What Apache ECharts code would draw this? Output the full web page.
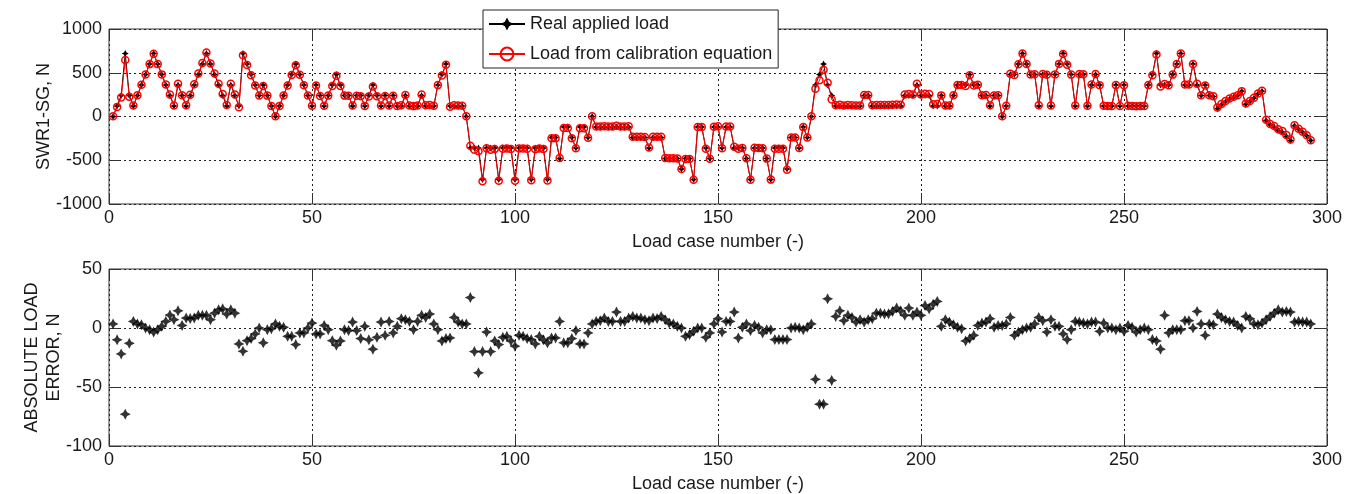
<!DOCTYPE html>
<html>
<head>
<meta charset="utf-8">
<script src="https://cdn.jsdelivr.net/npm/echarts@6/dist/echarts.min.js"></script>
<style>
html,body{margin:0;padding:0;background:#fff;}
#chart{width:1349px;height:494px;}
</style>
</head>
<body>
<div id="chart"></div>
<script>
// ---- data ----
const xTicks = [0, 50, 100, 150, 200, 250, 300];
const topYTicks = [-1000, -500, 0, 500, 1000];
const bottomYTicks = [-100, -50, 0, 50];

// Real applied load, load cases 1..296 (N)
const realLoad = [
  0,120,240,720,240,120,240,360,480,600,
  720,600,480,360,240,120,360,240,120,240,
  360,480,600,720,600,480,360,240,120,360,
  240,120,720,600,480,360,240,360,240,120,
  0,120,240,360,480,600,480,360,240,120,
  360,240,120,240,360,480,360,240,240,120,
  240,240,120,240,360,240,120,240,120,240,
  120,120,240,120,120,120,240,120,120,120,
  360,480,600,120,120,120,120,0,-360,-360,
  -360,-720,-360,-360,-360,-720,-360,-360,-360,-720,
  -360,-360,-360,-720,-360,-360,-360,-720,-240,-240,
  -480,-120,-120,-240,-360,-120,-120,-240,0,-120,
  -120,-120,-120,-120,-120,-120,-120,-120,-240,-240,
  -240,-240,-360,-240,-240,-240,-480,-480,-480,-480,
  -600,-480,-480,-720,-120,-120,-360,-480,-120,-120,
  -360,-120,-120,-360,-360,-360,-480,-720,-360,-360,
  -360,-480,-720,-360,-360,-360,-600,-240,-240,-360,
  -120,-240,0,360,480,600,360,240,120,120,
  120,120,120,120,120,240,240,120,120,120,
  120,120,120,120,120,240,240,240,360,240,
  240,240,120,120,240,120,120,240,360,360,
  360,480,360,360,240,240,120,240,240,0,
  120,480,480,600,720,600,480,480,120,480,
  480,120,480,600,720,600,480,120,480,480,
  120,360,480,360,120,120,120,360,120,360,
  120,120,120,120,120,360,480,720,360,360,
  360,480,600,720,360,360,600,360,240,360,
  240,230,90,135,170,200,220,240,290,140,
  170,210,260,290,-45,-95,-120,-160,-180,-225,
  -275,-105,-145,-180,-220,-275
];

// Absolute load error (calibration - real), load cases 1..296 (N)
const loadError = [
  3.4,-10,-22,-73,-13,5.6,3.4,2.8,0,-1.4,
  -3.4,-1.4,1.4,5.6,11,7,14.6,2.2,8.4,8,
  8.5,10.7,10.7,10.7,7,12.6,15.4,16.3,11.8,15.4,
  12.6,-13.5,-19.7,-10.7,-9,-5,0,-12.6,-1.4,-0.6,
  3.4,1.4,0.6,-7,-7,-14,-4.2,-4.2,0,4.2,
  -5,-5,2.2,-1.4,-10.7,-14.6,-11,-1.4,-2.2,5,
  -2.2,-9,1.4,-10,-18,-7.9,5,-6.2,5.6,-4.2,
  1.4,7.9,7,5.6,-1.4,5.6,10.7,9,11.8,3.4,
  -1.4,-11,-9,-8.4,9,5,3.4,3.4,25.8,-20,
  -38,-20,-3.4,-20,-11,-14,-7.9,-7,-11,-15.4,
  -6.2,-7,-9,-9.8,-13.5,-7,-10,-12.6,-8.4,-8.4,
  5.6,-12.6,-12.6,-9,-2.2,-13.5,-13.5,-4.2,3.4,5.6,
  6.2,8.4,5.6,5.6,13.5,5.6,5.6,8.4,9.8,8.4,
  8.4,7,6.2,8.4,8,9.8,7,4.2,3.4,1.4,
  0,-7,-5.6,-2.8,0,0,-7.9,-4.2,3.4,7.9,
  -3.4,5.6,5.6,13.5,-8.4,0.6,3.4,-2.2,2.2,0.6,
  -4.2,-1.4,-1.4,-9.8,-9.8,-9.8,-9.8,0,0.6,0,
  -1.4,0.6,3.4,-43.5,-64.6,-64.6,24.7,-44.4,9.8,14.6,
  6.2,10.7,9,5,7,5,7,7.9,12.6,12.6,
  11.8,12,14,16.9,14.6,10.7,16.9,10.7,13.5,10.7,
  19,16.3,20.2,22.5,1.4,7,5,2.8,0.6,-0.6,
  -11,-9,-6.2,2.2,4.2,5,7.9,0.6,2.2,2.2,
  3.4,9,-6.2,-3.4,-1.4,0,0.6,3.4,9,6.2,
  -3.4,7,1.4,1.4,-5,-9.8,-1.4,5.6,5,4.2,
  3.4,5,5,-2.8,4.2,0,0,-1.4,0,-2.8,
  2.2,0.6,-3.4,-1.4,0,-1.4,-9.8,-11,-18,10.7,
  -4.2,-1.4,-1.4,-1.4,6.2,6.2,0,14,3.4,-6.2,
  3.4,2.8,11.8,9,7,5.6,5,2.2,0,9.8,
  7.9,3.4,2.8,4.2,7,9.8,12.6,15.4,13.5,14,
  13.5,5,5.6,5,5,3.4
];

// ---- build series data ----
const realData = realLoad.map((v, i) => [i + 1, v]);
const calibData = realLoad.map((v, i) => [i + 1, +(v + loadError[i]).toFixed(1)]);
const errData = loadError.map((v, i) => [i + 1, v]);

const FONT = "'Liberation Sans', Arial, sans-serif";
const TXT = '#1a1a1a';
const STAR = 'path://M0,-10 L3.4,-3.4 L10,0 L3.4,3.4 L0,10 L-3.4,3.4 L-10,0 L-3.4,-3.4 Z';

const gridLine = { show: true, lineStyle: { color: '#222', width: 1, type: [2, 3] } };
const tick = { show: true, inside: true, length: 11, lineStyle: { color: '#333', width: 1 } };
const noLine = { show: false, onZero: false };
const lbl = { color: TXT, fontSize: 18, fontFamily: FONT, formatter: v => String(v) };

function xMain(gi) {
  return {
    type: 'value', gridIndex: gi, min: xTicks[0], max: xTicks[xTicks.length - 1],
    interval: xTicks[1] - xTicks[0], position: 'bottom',
    axisLine: noLine, axisTick: tick, splitLine: gridLine,
    axisLabel: Object.assign({ margin: 5 }, lbl),
    name: 'Load case number (-)', nameLocation: 'middle', nameGap: 29, nameMoveOverlap: false,
    nameTextStyle: { color: TXT, fontSize: 18, fontFamily: FONT }
  };
}
function xMirror(gi) {
  return {
    type: 'value', gridIndex: gi, min: xTicks[0], max: xTicks[xTicks.length - 1],
    interval: xTicks[1] - xTicks[0], position: 'top',
    axisLine: noLine, axisTick: tick, splitLine: { show: false },
    axisLabel: { show: false }
  };
}
function yMain(gi, ticks, name, gap) {
  return {
    type: 'value', gridIndex: gi, min: ticks[0], max: ticks[ticks.length - 1],
    interval: ticks[1] - ticks[0], position: 'left',
    axisLine: noLine, axisTick: tick, splitLine: gridLine,
    axisLabel: Object.assign({ margin: 7 }, lbl),
    name: name, nameLocation: 'middle', nameGap: gap, nameMoveOverlap: false,
    nameTextStyle: { color: TXT, fontSize: 18, fontFamily: FONT, lineHeight: 22, align: 'center' }
  };
}
function yMirror(gi, ticks) {
  return {
    type: 'value', gridIndex: gi, min: ticks[0], max: ticks[ticks.length - 1],
    interval: ticks[1] - ticks[0], position: 'right',
    axisLine: noLine, axisTick: tick, splitLine: { show: false },
    axisLabel: { show: false }
  };
}

const chart = echarts.init(document.getElementById('chart'), null, { renderer: 'canvas' });
chart.setOption({
  animation: false,
  backgroundColor: '#fff',
  textStyle: { fontFamily: FONT },
  grid: [
    { left: 109, top: 29, width: 1218, height: 175, show: true, borderColor: '#333', borderWidth: 1, backgroundColor: 'transparent' },
    { left: 109, top: 269, width: 1218, height: 177, show: true, borderColor: '#333', borderWidth: 1, backgroundColor: 'transparent' }
  ],
  xAxis: [xMain(0), xMirror(0), xMain(1), xMirror(1)],
  yAxis: [
    yMain(0, topYTicks, 'SWR1-SG, N', 54),
    yMirror(0, topYTicks),
    yMain(1, bottomYTicks, 'ABSOLUTE LOAD\nERROR, N', 44),
    yMirror(1, bottomYTicks)
  ],
  legend: {
    data: ['Real applied load', 'Load from calibration equation'],
    orient: 'vertical', left: 483, top: 10,
    backgroundColor: '#fff', borderColor: '#222', borderWidth: 1,
    padding: [5, 6, 5, 5], itemGap: 12, itemWidth: 36, itemHeight: 16,
    textStyle: { color: TXT, fontSize: 18, fontFamily: FONT }, z: 20
  },
  series: [
    {
      name: 'Real applied load', type: 'line', xAxisIndex: 0, yAxisIndex: 0,
      data: realData, symbol: STAR, symbolSize: 7, showAllSymbol: true,
      lineStyle: { color: '#000', width: 1 }, itemStyle: { color: '#000' }, z: 2
    },
    {
      name: 'Load from calibration equation', type: 'line', xAxisIndex: 0, yAxisIndex: 0,
      data: calibData, symbol: 'circle', symbolSize: 7, showAllSymbol: true,
      lineStyle: { color: '#ff0000', width: 1 },
      itemStyle: { color: 'rgba(255,255,255,0)', borderColor: '#ff0000', borderWidth: 1.5 }, z: 3
    },
    {
      name: 'Absolute load error', type: 'scatter', xAxisIndex: 2, yAxisIndex: 2,
      data: errData, symbol: STAR, symbolSize: 11,
      itemStyle: { color: '#000' }, z: 3
    }
  ]
});
</script>
</body>
</html>
